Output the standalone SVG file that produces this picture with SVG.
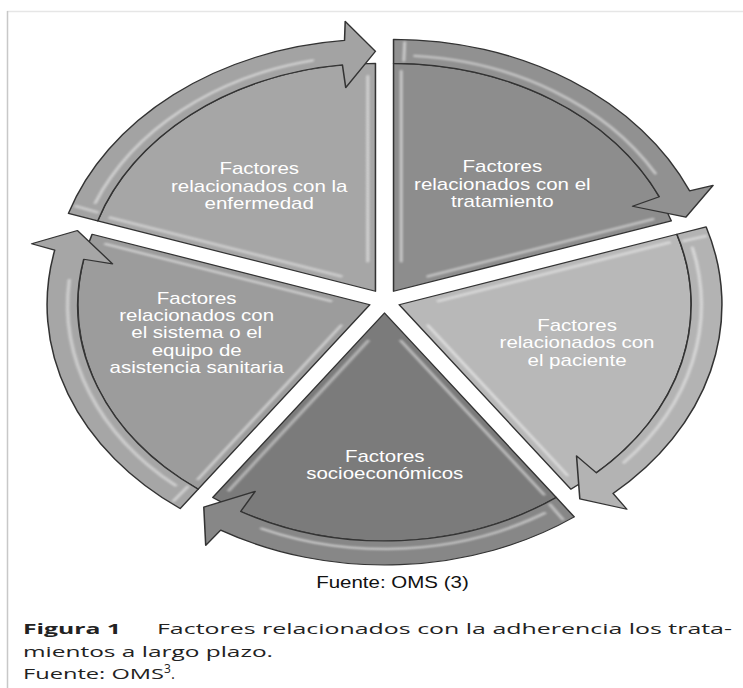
<svg xmlns="http://www.w3.org/2000/svg" width="743" height="688" viewBox="0 0 743 688">
<style>
.ol{stroke:#333;stroke-width:1.2;vector-effect:non-scaling-stroke;stroke-linejoin:round}
.hl{fill:none;stroke:#fff;stroke-width:2.4;stroke-linecap:round;opacity:.5;vector-effect:non-scaling-stroke}
.lbl{font-family:"Liberation Sans",Arial,sans-serif;font-size:16px;fill:#fff;text-anchor:middle}
.src{font-family:"Liberation Sans",Arial,sans-serif;font-size:16px;fill:#111;text-anchor:middle}
.cap{font-family:"Open Sans","Noto Sans",sans-serif;font-size:15px;fill:#222}
.b1{fill:#a6a6a6}.b2{fill:#8d8d8d}.b3{fill:#b8b8b8}.b4{fill:#7b7b7b}.b5{fill:#9c9c9c}
.r1{fill:#a3a3a3}.r2{fill:#919191}.r3{fill:#b3b3b3}.r4{fill:#878787}.r5{fill:#a6a6a6}
</style>
<defs>
<filter id="soft" x="-10%" y="-10%" width="120%" height="120%"><feGaussianBlur stdDeviation="0.9"/></filter>
<path id="body" d="M7.05,-9.71 L7.05,-237.71 A228,228 0 0 1 223.89,-80.17 Z"/>
<path id="band" d="M7.05,-237.71 L7.05,-261.71 A252,252 0 0 1 238.15,-110.2 L256.51,-115.6 L235.3,-83.87 L193.59,-94.72 L214.52,-104.26 A228,228 0 0 0 7.05,-237.71 Z"/>
<g id="bodyhl" class="hl" filter="url(#soft)">
<path d="M13.05,-39.71 L13.05,-229.71"/>
<path d="M33.73,-24.69 L209.68,-81.86"/>
</g>
<g id="bandhl" class="hl" filter="url(#soft)">
<path d="M23.51,-245.13 A236,236 0 0 1 211.43,-127.71"/>
<path d="M15.11,-240.57 L15.74,-258.56"/>
</g>
</defs>
<g id="frame" fill="none">
<line x1="7" y1="11.5" x2="743" y2="11.5" stroke="#e6e6e6" stroke-width="1.5"/>
<line x1="7.5" y1="11" x2="7.5" y2="688" stroke="#c8c8c8" stroke-width="1.5"/>
</g>
<g transform="translate(384.5,301) scale(1.281,1)">
<g id="node-enfermedad">
<g transform="rotate(-72)"><use href="#body" class="b1 ol"/><use href="#bodyhl"/></g>
<text class="lbl" x="-97.8" y="-127">Factores</text>
<text class="lbl" x="-97.8" y="-109.5">relacionados con la</text>
<text class="lbl" x="-97.8" y="-92">enfermedad</text>
</g>
<g id="node-tratamiento">
<g><use href="#body" class="b2 ol"/><use href="#bodyhl"/></g>
<text class="lbl" x="92" y="-129">Factores</text>
<text class="lbl" x="92" y="-111.5">relacionados con el</text>
<text class="lbl" x="92" y="-94">tratamiento</text>
</g>
<g id="node-paciente">
<g transform="rotate(72)"><use href="#body" class="b3 ol"/><use href="#bodyhl"/></g>
<text class="lbl" x="150.3" y="30">Factores</text>
<text class="lbl" x="150.3" y="47.5">relacionados con</text>
<text class="lbl" x="150.3" y="65">el paciente</text>
</g>
<g id="node-socioeconomicos">
<g transform="rotate(144)"><use href="#body" class="b4 ol"/><use href="#bodyhl"/></g>
<text class="lbl" x="0.2" y="161">Factores</text>
<text class="lbl" x="0.2" y="178.5">socioeconómicos</text>
</g>
<g id="node-sistema">
<g transform="rotate(216)"><use href="#body" class="b5 ol"/><use href="#bodyhl"/></g>
<text class="lbl" x="-146.6" y="2.5">Factores</text>
<text class="lbl" x="-146.6" y="20">relacionados con</text>
<text class="lbl" x="-146.6" y="37.5">el sistema o el</text>
<text class="lbl" x="-146.6" y="55">equipo de</text>
<text class="lbl" x="-146.6" y="72.5">asistencia sanitaria</text>
</g>
<g id="connectors">
<g transform="rotate(-72)"><use href="#band" class="r1 ol"/><use href="#bandhl"/></g>
<g><use href="#band" class="r2 ol"/><use href="#bandhl"/></g>
<g transform="rotate(72)"><use href="#band" class="r3 ol"/><use href="#bandhl"/></g>
<g transform="rotate(144)"><use href="#band" class="r4 ol"/><use href="#bandhl"/></g>
<g transform="rotate(216)"><use href="#band" class="r5 ol"/><use href="#bandhl"/></g>
</g>
<text class="src" x="6.2" y="287">Fuente: OMS (3)</text>
</g>
<g id="caption">
<text class="cap" x="23" y="634" font-weight="bold" textLength="98" lengthAdjust="spacingAndGlyphs">Figura 1</text>
<text class="cap" x="157" y="634" textLength="575" lengthAdjust="spacingAndGlyphs">Factores relacionados con la adherencia los trata-</text>
<text class="cap" x="23" y="656.5" textLength="250" lengthAdjust="spacingAndGlyphs">mientos a largo plazo.</text>
<text class="cap" x="23" y="679"><tspan textLength="141" lengthAdjust="spacingAndGlyphs">Fuente: OMS</tspan><tspan font-size="12" dy="-6">3</tspan><tspan dy="6">.</tspan></text>
</g>
</svg>
